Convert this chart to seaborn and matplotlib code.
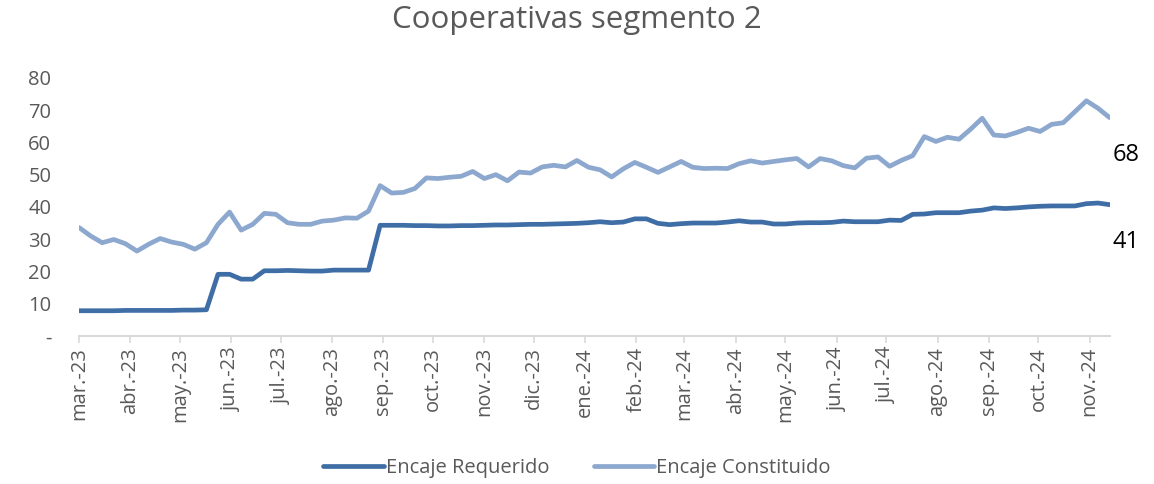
import matplotlib
matplotlib.use("Agg")
import numpy as np
import pandas as pd
import matplotlib.pyplot as plt
import seaborn as sns

# weekly series (millions)
fechas = pd.date_range("2023-03-01", periods=90, freq="7D")

requerido = [7.8, 7.8, 7.8, 7.8, 7.9, 7.9, 7.9, 7.9, 7.9, 8.0, 8.0, 8.1,
             19.1, 19.1, 17.6, 17.6, 20.2, 20.2, 20.3, 20.2, 20.1, 20.1, 20.4, 20.4,
             20.4, 20.4, 34.3, 34.3, 34.3, 34.2, 34.2, 34.1, 34.1, 34.2, 34.2, 34.3,
             34.4, 34.4, 34.5, 34.6, 34.6, 34.7, 34.8, 34.9, 35.1, 35.4, 35.1, 35.3,
             36.3, 36.3, 34.9, 34.5, 34.8, 35.0, 35.0, 35.0, 35.3, 35.7, 35.3, 35.3,
             34.7, 34.7, 35.0, 35.1, 35.1, 35.2, 35.6, 35.4, 35.4, 35.4, 35.9, 35.8,
             37.7, 37.8, 38.2, 38.2, 38.2, 38.7, 39.0, 39.7, 39.5, 39.7, 40.0, 40.2,
             40.3, 40.3, 40.3, 41.0, 41.2, 40.7]

constituido = [33.6, 31.0, 28.9, 29.9, 28.6, 26.3, 28.4, 30.2, 29.1, 28.4, 26.9, 28.9,
               34.6, 38.4, 32.8, 34.6, 38.0, 37.7, 35.1, 34.6, 34.6, 35.6, 35.9, 36.6,
               36.5, 38.7, 46.6, 44.3, 44.5, 45.7, 49.0, 48.8, 49.2, 49.5, 51.0, 48.8,
               50.0, 48.1, 50.8, 50.5, 52.4, 52.9, 52.4, 54.4, 52.3, 51.5, 49.3, 51.8,
               53.8, 52.3, 50.7, 52.4, 54.1, 52.3, 51.9, 52.0, 51.9, 53.4, 54.3, 53.6,
               54.1, 54.6, 55.0, 52.4, 55.0, 54.3, 52.8, 52.1, 55.1, 55.5, 52.6, 54.4,
               55.9, 61.8, 60.3, 61.6, 61.0, 64.1, 67.5, 62.3, 62.0, 63.1, 64.4, 63.4,
               65.6, 66.1, 69.5, 72.9, 70.6, 67.7]

meses = ["mar.-23", "abr.-23", "may.-23", "jun.-23", "jul.-23", "ago.-23", "sep.-23",
         "oct.-23", "nov.-23", "dic.-23", "ene.-24", "feb.-24", "mar.-24", "abr.-24",
         "may.-24", "jun.-24", "jul.-24", "ago.-24", "sep.-24", "oct.-24", "nov.-24"]
y_ticks = [0, 10, 20, 30, 40, 50, 60, 70, 80]
y_labels = ["-", "10", "20", "30", "40", "50", "60", "70", "80"]

df = pd.DataFrame({"fecha": fechas,
                   "Encaje Requerido": requerido,
                   "Encaje Constituido": constituido})
df_long = df.melt(id_vars="fecha", var_name="serie", value_name="valor")

sns.set_theme(style="white")
plt.rcParams["font.family"] = ["Open Sans", "DejaVu Sans"]

gris = "#595959"
colores = {"Encaje Requerido": "#3F6EA7", "Encaje Constituido": "#8DA8CE"}

fig = plt.figure(figsize=(11.54, 4.84), dpi=100)
ax = fig.add_axes([0.0685, 0.306, 0.893, 0.533])

sns.lineplot(data=df_long, x="fecha", y="valor", hue="serie", palette=colores,
             linewidth=3.4, ax=ax, legend=True)

ax.set_xlim(fechas[0], fechas[-1])
ax.set_ylim(0, 80)
ax.set_xlabel("")
ax.set_ylabel("")

ticks_x = pd.date_range("2023-03-01", periods=len(meses), freq="MS")
ax.set_xticks(ticks_x)
ax.set_xticklabels(meses, rotation=90, color=gris, fontsize=14.5)
ax.set_yticks(y_ticks)
ax.set_yticklabels(y_labels, color=gris, fontsize=14.5)

for s in ["top", "right", "left"]:
    ax.spines[s].set_visible(False)
ax.spines["bottom"].set_color("#D9D9D9")
ax.spines["bottom"].set_linewidth(1.5)
ax.tick_params(axis="x", bottom=True, length=5, width=1.2, color="#D9D9D9", pad=3)
ax.tick_params(axis="y", left=False, pad=14)

# end labels
ax.annotate(f"{constituido[-1]:.0f}", (fechas[-1], constituido[-1]),
            xytext=(12, -27), textcoords="offset points",
            ha="center", va="center", fontsize=17, color="black")
ax.annotate(f"{requerido[-1]:.0f}", (fechas[-1], requerido[-1]),
            xytext=(12, -27), textcoords="offset points",
            ha="center", va="center", fontsize=17, color="black")

fig.suptitle("Cooperativas segmento 2", x=0.5, y=0.99, fontsize=22.5, color=gris)

handles, labels = ax.get_legend_handles_labels()
ax.get_legend().remove()
leg = fig.legend(handles, labels, loc="center", bbox_to_anchor=(0.5, 0.033), ncol=2,
                 frameon=False, fontsize=14.5, handlelength=3.0, handletextpad=0.1,
                 columnspacing=2.2)
for t in leg.get_texts():
    t.set_color(gris)

fig.savefig("out.png", dpi=100)
